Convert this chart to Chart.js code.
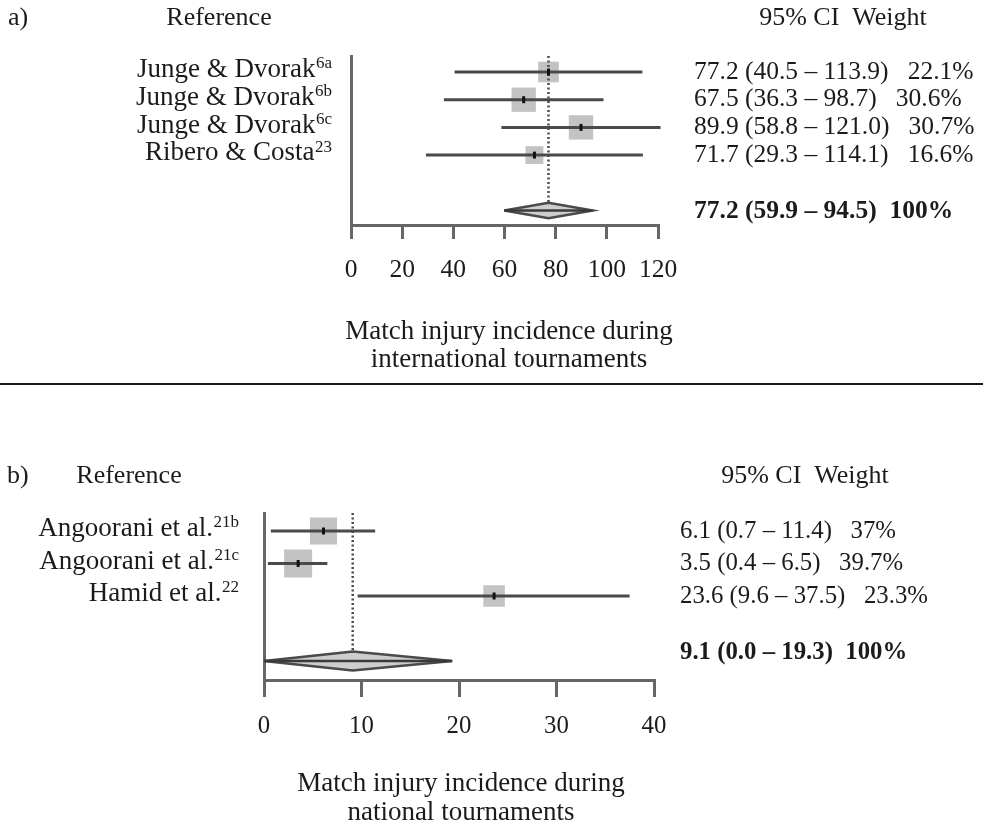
<!DOCTYPE html>
<html>
<head>
<meta charset="utf-8">
<script src="https://cdn.jsdelivr.net/npm/chart.js@4.4.1/dist/chart.umd.min.js"></script>
<style>
  html, body { margin: 0; padding: 0; background: #ffffff; }
  #wrap { position: relative; width: 983px; height: 825px; overflow: hidden; }
  #panelA { position: absolute; left: 0; top: 0; }
  #rule { position: absolute; left: 0; top: 383px; width: 983px; height: 2px; background: #1a1a1a; }
  #panelB { position: absolute; left: 0; top: 384px; }
</style>
</head>
<body>
<div id="wrap">
  <canvas id="panelA" width="983" height="383"></canvas>
  <div id="rule"></div>
  <canvas id="panelB" width="983" height="441"></canvas>
</div>
<script>
// ---- a) international tournaments ----
const intlStudies  = ['Junge & Dvorak', 'Junge & Dvorak', 'Junge & Dvorak', 'Ribero & Costa'];
const intlRefs     = ['6a', '6b', '6c', '23'];
const intlEstimate = [77.2, 67.5, 89.9, 71.7];
const intlLower    = [40.5, 36.3, 58.8, 29.3];
const intlUpper    = [113.9, 98.7, 121.0, 114.1];
const intlWeight   = [22.1, 30.6, 30.7, 16.6];
const intlPooled   = [77.2, 59.9, 94.5];          // estimate, lower, upper
const intlTicks    = [0, 20, 40, 60, 80, 100, 120];
const intlTitle    = ['Match injury incidence during', 'international tournaments'];

// ---- b) national tournaments ----
const natStudies  = ['Angoorani et al.', 'Angoorani et al.', 'Hamid et al.'];
const natRefs     = ['21b', '21c', '22'];
const natEstimate = [6.1, 3.5, 23.6];
const natLower    = [0.7, 0.4, 9.6];
const natUpper    = [11.4, 6.5, 37.5];
const natWeight   = [37, 39.7, 23.3];
const natPooled   = [9.1, 0.0, 19.3];
const natTicks    = [0, 10, 20, 30, 40];
const natTitle    = ['Match injury incidence during', 'national tournaments'];

const FONT = '"Liberation Serif", "Times New Roman", serif';
const INK = '#1b1b1b';
const AXIS = '#666666';
const WHISKER = '#4a4a4a';
const BOX = '#c3c3c3';
const DIAMOND_FILL = '#cdcdcd';

function fmtStats(e, l, h, w, gap) {
  return e.toFixed(1) + ' (' + l.toFixed(1) + ' \u2013 ' + h.toFixed(1) + ')' + gap + w + '%';
}

// Text layer: headers, study labels with superscript refs, statistics column, axis title
const forestText = {
  id: 'forestText',
  afterDraw(chart, args, o) {
    const ctx = chart.ctx;
    const ys = chart.scales.y;
    ctx.save();
    ctx.fillStyle = INK;
    ctx.textBaseline = 'middle';

    ctx.font = o.headSize + 'px ' + FONT;
    ctx.textAlign = 'left';
    ctx.fillText(o.tag, o.tagX, o.headerY);
    ctx.textAlign = 'center';
    ctx.fillText('Reference', o.refX, o.headerY);
    ctx.fillText('95% CI  Weight', o.ciX, o.headerY);

    o.studies.forEach((name, i) => {
      const py = ys.getPixelForValue(i) + o.labelDy;
      ctx.font = o.supSize + 'px ' + FONT;
      const sw = ctx.measureText(o.refs[i]).width;
      ctx.textAlign = 'left';
      ctx.fillText(o.refs[i], o.labelRight - sw, py - 6);
      ctx.font = o.wordSize + 'px ' + FONT;
      ctx.textAlign = 'right';
      ctx.fillText(name, o.labelRight - sw - 0.5, py);
    });

    ctx.textAlign = 'left';
    ctx.font = o.numSize + 'px ' + FONT;
    o.estimate.forEach((e, i) => {
      const py = ys.getPixelForValue(i);
      ctx.fillText(fmtStats(e, o.lower[i], o.upper[i], o.weight[i], '   '), o.statsX, py);
    });
    const total = Math.round(o.weight.reduce((a, b) => a + b, 0));
    ctx.font = 'bold ' + o.numSize + 'px ' + FONT;
    ctx.fillText(fmtStats(o.pooled[0], o.pooled[1], o.pooled[2], total, '  '),
                 o.statsX, ys.getPixelForValue(o.summaryRow) + o.summaryDy);

    ctx.font = o.wordSize + 'px ' + FONT;
    ctx.textAlign = 'center';
    o.title.forEach((line, k) => ctx.fillText(line, o.titleX, o.titleY[k]));
    ctx.restore();
  }
};

function buildPanel(canvas, d, lay) {
  const W = canvas.width, H = canvas.height;
  const XH = 80;
  const rows = d.estimate.map((_, i) => i);
  const sumRow = d.estimate.length + 1;
  const [pe, pl, ph] = d.pooled;
  const half = lay.diamondHalf;

  const datasets = [];
  rows.forEach(i => datasets.push({
    type: 'line', showLine: true, clip: false, order: 2,
    data: [{ x: d.lower[i], y: i }, { x: d.upper[i], y: i }],
    borderColor: WHISKER, borderWidth: 3, pointRadius: 0
  }));
  datasets.push({
    type: 'scatter', order: 6, clip: false,
    data: rows.map(i => ({ x: d.estimate[i], y: i })),
    pointStyle: 'rect',
    pointRadius: d.weight.map(w => lay.boxScale * Math.sqrt(w) / Math.SQRT2),
    pointBackgroundColor: BOX, pointBorderWidth: 0, pointBorderColor: BOX
  });
  datasets.push({
    type: 'scatter', order: 1, clip: false,
    data: rows.map(i => ({ x: d.estimate[i], y: i })),
    pointStyle: 'line', pointRotation: 90, pointRadius: 3.5,
    pointBorderColor: '#111111', pointBorderWidth: 3
  });
  datasets.push({
    type: 'line', showLine: true, order: 3,
    data: [{ x: pe, y: lay.yMin }, { x: pe, y: sumRow - half }],
    borderColor: '#4a4a4a', borderWidth: 2.5, borderDash: [2, 2.5], pointRadius: 0
  });
  datasets.push({
    type: 'line', showLine: true, clip: false, order: 4, tension: 0,
    data: [{ x: pl, y: sumRow }, { x: pe, y: sumRow - half }, { x: ph, y: sumRow },
           { x: pe, y: sumRow + half }, { x: pl, y: sumRow }],
    borderColor: '#4a4a4a', borderWidth: 2.5, backgroundColor: DIAMOND_FILL,
    fill: 'shape', pointRadius: 0
  });
  datasets.push({
    type: 'line', showLine: true, clip: false, order: 3,
    data: [{ x: pl, y: sumRow }, { x: ph, y: sumRow }],
    borderColor: '#3a3a3a', borderWidth: 2.5, pointRadius: 0
  });

  return new Chart(canvas, {
    type: 'scatter',
    data: { datasets },
    options: {
      responsive: false, animation: false, events: [],
      layout: { padding: { left: lay.left, right: W - lay.right, top: lay.top, bottom: H - lay.bottom - XH } },
      plugins: {
        legend: { display: false }, tooltip: { enabled: false },
        forestText: {
          tag: lay.tag, tagX: lay.tagX, headerY: lay.headerY, refX: lay.refX, ciX: lay.ciX,
          studies: d.studies, refs: d.refs, estimate: d.estimate, lower: d.lower, upper: d.upper,
          weight: d.weight, pooled: d.pooled, summaryRow: sumRow, summaryDy: lay.summaryDy,
          labelRight: lay.labelRight, labelDy: lay.labelDy, statsX: lay.statsX,
          title: d.title, titleX: lay.titleX, titleY: lay.titleY,
          wordSize: 27, headSize: 26, numSize: lay.numSize, supSize: 17
        }
      },
      scales: {
        x: {
          type: 'linear', min: d.ticks[0], max: d.ticks[d.ticks.length - 1],
          afterBuildTicks: s => { s.ticks = d.ticks.map(v => ({ value: v })); },
          afterFit: s => { s.height = XH; },
          ticks: { font: { family: FONT, size: lay.numSize }, color: INK, padding: lay.tickPad, maxRotation: 0, autoSkip: false },
          grid: { drawOnChartArea: false, drawTicks: true, tickLength: lay.tickLen, color: AXIS, lineWidth: 3 },
          border: { display: true, color: AXIS, width: 3 }
        },
        y: {
          type: 'linear', reverse: true, min: lay.yMin, max: lay.yMax,
          afterFit: s => { s.width = 0; },
          ticks: { display: false },
          grid: { drawOnChartArea: false, drawTicks: false, color: AXIS },
          border: { display: true, color: AXIS, width: 3 }
        }
      }
    },
    plugins: [forestText]
  });
}

buildPanel(document.getElementById('panelA'), {
  studies: intlStudies, refs: intlRefs, estimate: intlEstimate, lower: intlLower,
  upper: intlUpper, weight: intlWeight, pooled: intlPooled, ticks: intlTicks, title: intlTitle
}, {
  left: 351, right: 658, top: 56, bottom: 225, yMin: -0.578, yMax: 5.523,
  diamondHalf: 0.28, boxScale: 4.4, tickLen: 14, tickPad: 16, numSize: 25.5,
  tag: 'a)', tagX: 8, headerY: 18, refX: 219, ciX: 843,
  labelRight: 332, labelDy: -2, statsX: 694, summaryDy: 1,
  titleX: 509, titleY: [332, 360]
});

buildPanel(document.getElementById('panelB'), {
  studies: natStudies, refs: natRefs, estimate: natEstimate, lower: natLower,
  upper: natUpper, weight: natWeight, pooled: natPooled, ticks: natTicks, title: natTitle
}, {
  left: 264, right: 654, top: 129, bottom: 296, yMin: -0.554, yMax: 4.585,
  diamondHalf: 0.29, boxScale: 4.45, tickLen: 17, tickPad: 15, numSize: 24.8,
  tag: 'b)', tagX: 7, headerY: 92, refX: 129, ciX: 805,
  labelRight: 239, labelDy: -2, statsX: 680, summaryDy: -8,
  titleX: 461, titleY: [400, 429]
});
</script>
</body>
</html>
